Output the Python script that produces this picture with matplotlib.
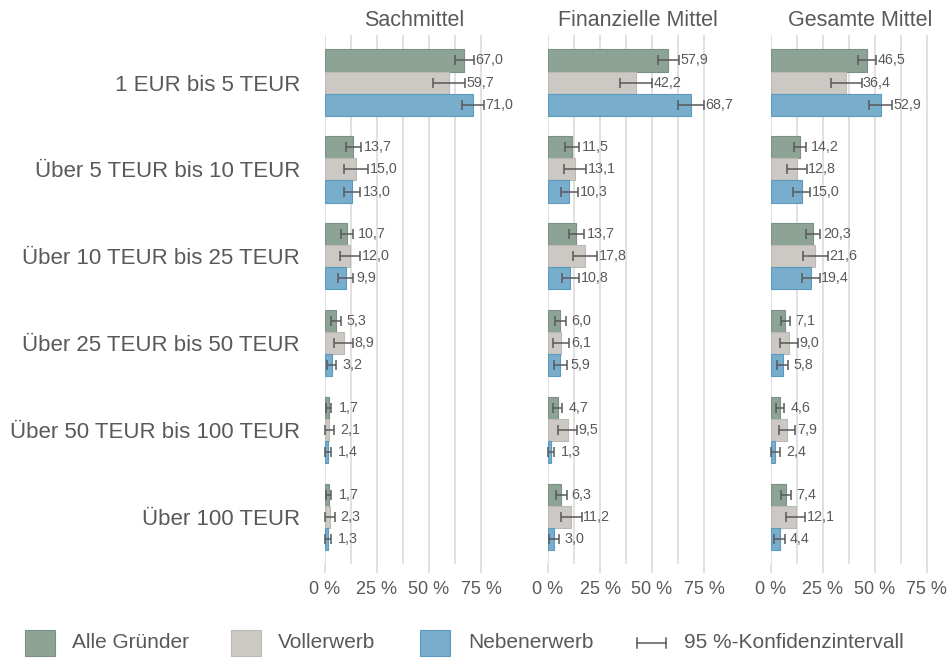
import numpy as np
import matplotlib.pyplot as plt
from matplotlib.patches import Rectangle
from matplotlib.lines import Line2D

plt.rcParams['font.family'] = ['Liberation Sans', 'DejaVu Sans']

categories = ['1 EUR bis 5 TEUR', 'Über 5 TEUR bis 10 TEUR', 'Über 10 TEUR bis 25 TEUR',
              'Über 25 TEUR bis 50 TEUR', 'Über 50 TEUR bis 100 TEUR', 'Über 100 TEUR']
panels = ['Sachmittel', 'Finanzielle Mittel', 'Gesamte Mittel']
series = ['Alle Gründer', 'Vollerwerb', 'Nebenerwerb']
ci_label = '95 %-Konfidenzintervall'

# shares in %
sach_alle = [67.0, 13.7, 10.7, 5.3, 1.7, 1.7]
sach_voll = [59.7, 15.0, 12.0, 8.9, 2.1, 2.3]
sach_neben = [71.0, 13.0, 9.9, 3.2, 1.4, 1.3]
fin_alle = [57.9, 11.5, 13.7, 6.0, 4.7, 6.3]
fin_voll = [42.2, 13.1, 17.8, 6.1, 9.5, 11.2]
fin_neben = [68.7, 10.3, 10.8, 5.9, 1.3, 3.0]
ges_alle = [46.5, 14.2, 20.3, 7.1, 4.6, 7.4]
ges_voll = [36.4, 12.8, 21.6, 9.0, 7.9, 12.1]
ges_neben = [52.9, 15.0, 19.4, 5.8, 2.4, 4.4]

# half widths of the 95 % confidence intervals
sach_alle_ci = [4.4, 3.4, 3.0, 2.2, 1.4, 1.4]
sach_voll_ci = [7.6, 5.8, 5.0, 4.6, 2.3, 2.4]
sach_neben_ci = [5.3, 4.0, 3.8, 2.1, 1.5, 1.4]
fin_alle_ci = [5.0, 3.2, 3.6, 2.6, 2.2, 2.6]
fin_voll_ci = [7.8, 5.4, 5.9, 3.8, 4.6, 5.0]
fin_neben_ci = [6.2, 4.0, 4.0, 3.0, 1.4, 2.4]
ges_alle_ci = [4.2, 3.0, 3.4, 2.2, 2.0, 2.4]
ges_voll_ci = [7.4, 4.8, 6.0, 4.2, 3.9, 4.6]
ges_neben_ci = [5.6, 4.0, 4.4, 2.8, 2.0, 2.6]

xticks = [0, 25, 50, 75]

panel_data = [
    [(sach_alle, sach_alle_ci), (sach_voll, sach_voll_ci), (sach_neben, sach_neben_ci)],
    [(fin_alle, fin_alle_ci), (fin_voll, fin_voll_ci), (fin_neben, fin_neben_ci)],
    [(ges_alle, ges_alle_ci), (ges_voll, ges_voll_ci), (ges_neben, ges_neben_ci)],
]

colors = ['#8da396', '#ccc8c3', '#78aecb']
edges = ['#7b9184', '#bcb8b3', '#5b9bc0']
txt = '#595959'
grid_c = '#dcdcdc'

W, H = 948, 659
fig = plt.figure(figsize=(W / 100, H / 100), dpi=100)

lefts = [325, 548, 770.5]
pw = 85 * 2.08
top, bot = 35, 564
bh = 0.254
offs = [-bh, 0, bh]
y = np.arange(len(categories))

for p, (name, data) in enumerate(zip(panels, panel_data)):
    ax = fig.add_axes([lefts[p] / W, 1 - bot / H, pw / W, (bot - top) / H])
    ax.set_xlim(0, 85)
    ax.set_ylim(5.54, -0.547)
    for s, (vals, ci) in enumerate(data):
        vals = np.array(vals)
        ci = np.array(ci)
        ax.barh(y + offs[s], vals, height=bh, color=colors[s], edgecolor=edges[s],
                linewidth=0.8, zorder=2)
        ax.errorbar(vals, y + offs[s], xerr=ci, fmt='none', ecolor=txt, elinewidth=1.1,
                    capsize=3.5, capthick=1.1, zorder=3, clip_on=False)
        for v, c, yy in zip(vals, ci, y + offs[s]):
            xt = max(v + 5.0, v + c + 0.6)
            ax.text(xt, yy, f'{v:.1f}'.replace('.', ','), va='center', ha='left',
                    fontsize=10.3, color=txt, zorder=4)
    ax.set_xticks(xticks)
    ax.set_xticks([12.5, 37.5, 62.5], minor=True)
    ax.set_xticklabels([f'{t} %' for t in xticks])
    ax.grid(True, which='both', axis='x', color=grid_c, linewidth=1.2, zorder=0)
    ax.set_axisbelow(True)
    ax.tick_params(axis='x', which='major', length=6.5, width=1.2, color=grid_c,
                   labelsize=13, labelcolor=txt, pad=6)
    ax.tick_params(axis='x', which='minor', length=0)
    for sp in ax.spines.values():
        sp.set_visible(False)
    if p == 0:
        ax.set_yticks(y)
        ax.set_yticklabels(categories)
        ax.tick_params(axis='y', length=0, pad=18, labelsize=16, labelcolor=txt)
    else:
        ax.set_yticks([])
    ax.text(43, 1 + 15 / (bot - top), name, transform=ax.get_xaxis_transform(),
            ha='center', va='center', fontsize=15.5, color=txt)

# legend along the bottom
ly = 643
sq_x = [25, 231, 420]
tx_x = [72, 278, 468]
for s in range(3):
    fig.add_artist(Rectangle((sq_x[s] / W, (H - ly - 13) / H), 30 / W, 26 / H,
                             transform=fig.transFigure, facecolor=colors[s],
                             edgecolor=edges[s], linewidth=0.8))
    fig.text(tx_x[s] / W, 1 - ly / H, series[s], ha='left', va='center',
             fontsize=15, color=txt)
fig.add_artist(Line2D([637 / W, 666 / W], [1 - ly / H, 1 - ly / H],
                      transform=fig.transFigure, color=txt, linewidth=1.1))
for cx in (637, 666):
    fig.add_artist(Line2D([cx / W, cx / W], [1 - (ly - 5) / H, 1 - (ly + 5) / H],
                          transform=fig.transFigure, color=txt, linewidth=1.1))
fig.text(684 / W, 1 - ly / H, ci_label, ha='left', va='center', fontsize=15, color=txt)

fig.savefig('out.png', dpi=100)
